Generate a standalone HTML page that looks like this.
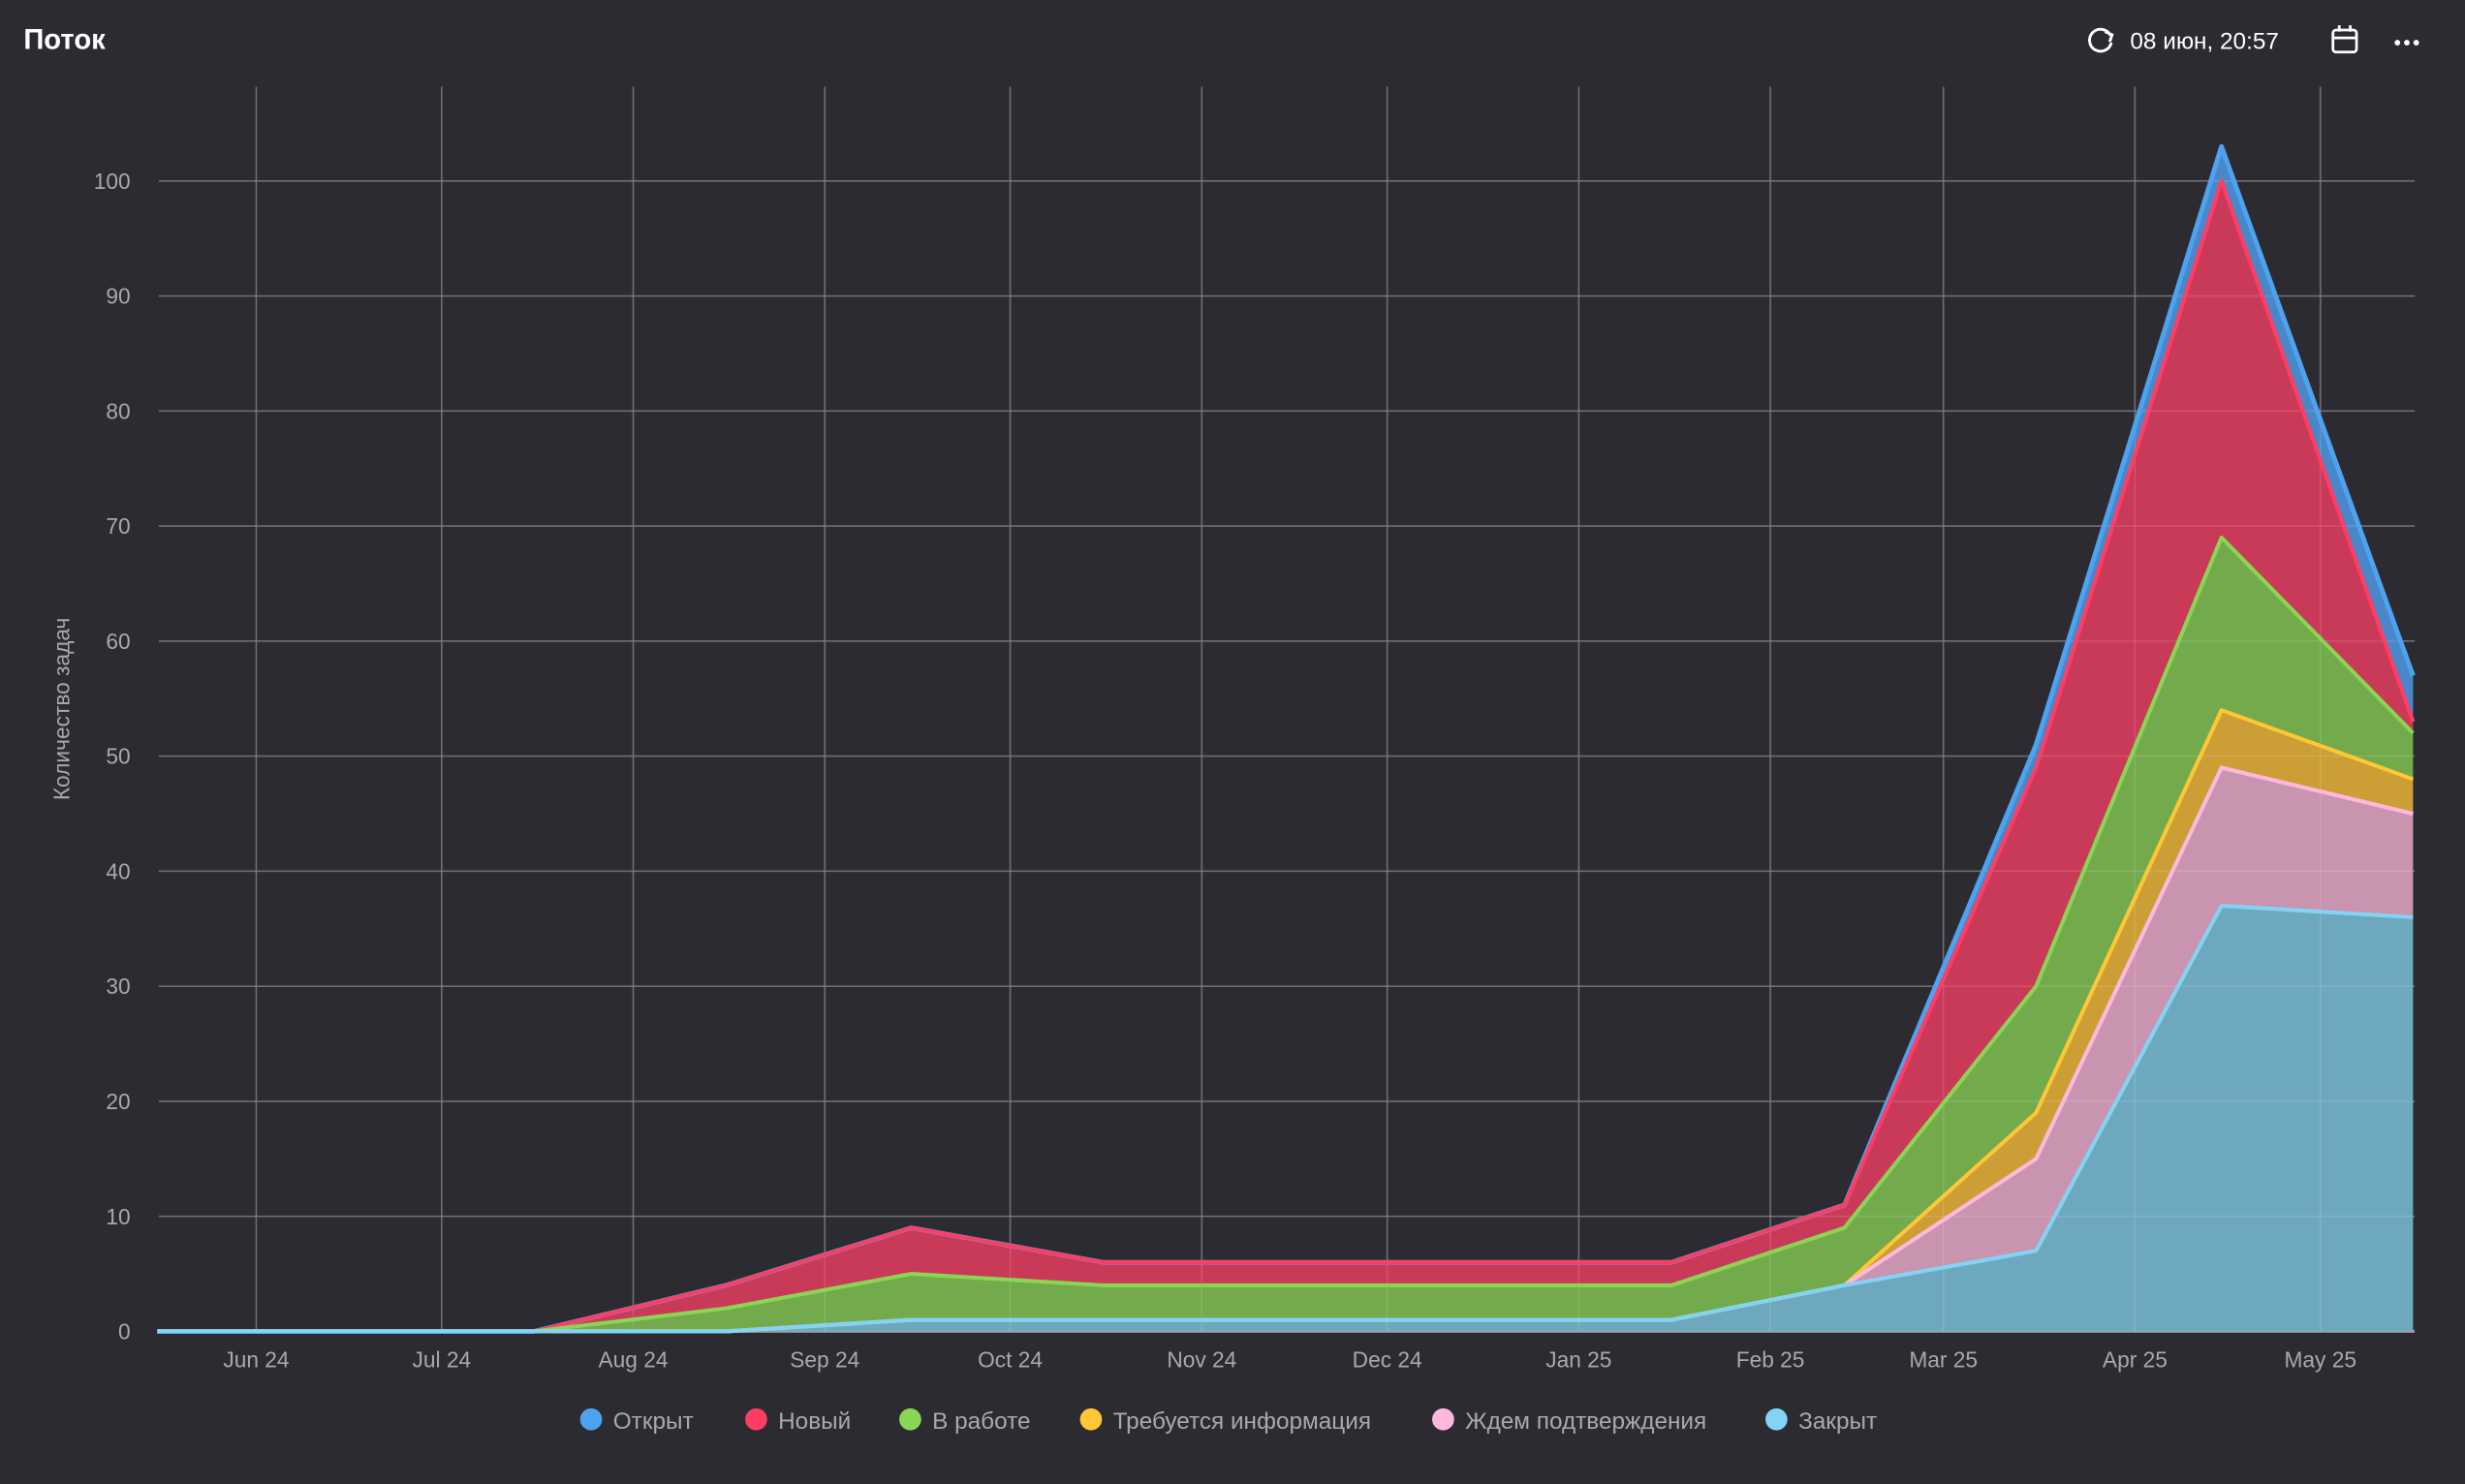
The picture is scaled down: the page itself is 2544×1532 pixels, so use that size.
<!DOCTYPE html>
<html><head><meta charset="utf-8"><style>
html,body{margin:0;padding:0;background:#2c2b31;}
svg{display:block;font-family:"Liberation Sans","DejaVu Sans",sans-serif;}
</style></head><body>
<svg id="chart" width="2544" height="1532" viewBox="0 0 1568 944" xmlns="http://www.w3.org/2000/svg">
<rect x="0" y="0" width="1568" height="944" fill="#2c2b31"/>
<text x="15" y="31" fill="#ffffff" font-size="18" font-weight="bold">Поток</text>
<g transform="translate(1336,26)">
<path d="M6.5,-3.5 A7,7 0 1 0 7,1" fill="none" stroke="#fff" stroke-width="1.8"/>
<path d="M3,-6 L7.5,-4 L6,0.5" fill="none" stroke="#fff" stroke-width="1.8"/>
</g>
<text x="1355" y="31" fill="#ffffff" font-size="15">08 июн, 20:57</text>
<g>
<rect x="1484" y="19" width="15" height="14" rx="2" fill="none" stroke="#fff" stroke-width="1.7"/>
<line x1="1484" y1="24" x2="1499" y2="24" stroke="#fff" stroke-width="1.7"/>
<line x1="1488" y1="16" x2="1488" y2="20" stroke="#fff" stroke-width="1.7"/>
<line x1="1495" y1="16" x2="1495" y2="20" stroke="#fff" stroke-width="1.7"/>
</g>
<g fill="#fff">
<circle cx="1525" cy="27" r="1.8"/><circle cx="1531" cy="27" r="1.8"/><circle cx="1537" cy="27" r="1.8"/>
</g>
<text transform="translate(44,451) rotate(-90)" text-anchor="middle" fill="#a9a9ad" font-size="14">Количество задач</text>
<g id="grid"></g><g id="areas"></g><g id="overlay"></g><g id="lines"></g><g id="axes"></g><g id="legend"></g>
</svg>
<script>
const monthLabels = ["Jun 24","Jul 24","Aug 24","Sep 24","Oct 24","Nov 24","Dec 24","Jan 25","Feb 25","Mar 25","Apr 25","May 25"];
const monthDays = [0,30,61,92,122,153,183,214,245,273,304,334]; // days since 2024-06-01
const pointDays = [-16,15,45,76,106,137,168,198,229,257,288,318,349];
const yTicks = [0,10,20,30,40,50,60,70,80,90,100];
const seriesNames = ["Закрыт","Ждем подтверждения","Требуется информация","В работе","Новый","Открыт"];
const closedVals  = [0,0,0,0,1,1,1,1,1,4,7,37,36];
const waitVals    = [0,0,0,0,0,0,0,0,0,0,8,12,9];
const infoVals    = [0,0,0,0,0,0,0,0,0,0,4,5,3];
const workVals    = [0,0,0,2,4,3,3,3,3,5,11,15,4];
const newVals     = [0,0,0,2,4,2,2,2,2,2,19,31,1];
const openVals    = [0,0,0,0,0,0,0,0,0,0,2,3,4];
const legendOrder = ["Открыт","Новый","В работе","Требуется информация","Ждем подтверждения","Закрыт"];

const fills = ["#6ea8be","#c994b0","#cc9e36","#73aa4c","#c93a58","#4a87c8"];
const strokes = ["#82d4f4","#ffb8dd","#ffc636","#8ad554","#ff3d64","#4da3f0"];
const NS="http://www.w3.org/2000/svg";
const L=101,R=1536,Y0=847,Y100=115;
const xs = d => 163 + d*(1476-163)/334;
const ys = v => Y0 - v*(Y0-Y100)/100;
function mk(t,a,p){const e=document.createElementNS(NS,t);for(const k in a)e.setAttribute(k,a[k]);p.appendChild(e);return e;}
const grid=document.getElementById('grid'),areas=document.getElementById('areas'),overlay=document.getElementById('overlay'),linesG=document.getElementById('lines'),axes=document.getElementById('axes'),legend=document.getElementById('legend');
yTicks.forEach(v=>{
  const l=mk('line',{x1:L,x2:R,y1:ys(v),y2:ys(v),stroke:v===0?'#8a8a8e':'#5a5a5f','stroke-width':v===0?2:1},grid);
  
  
  const o=mk('line',{x1:L,x2:R,y1:ys(v),y2:ys(v),stroke:'#ffffff','stroke-opacity':0.12,'stroke-width':1},overlay);
  
  
  const t=mk('text',{x:83,y:ys(v)+5,'text-anchor':'end',fill:'#a9a9ad','font-size':14},axes);
  t.textContent=v;
  
  
});
monthDays.forEach((d,i)=>{
  const l=mk('line',{x1:xs(d),x2:xs(d),y1:55,y2:Y0,stroke:'#5a5a5f','stroke-width':1},grid);
  
  
  const o=mk('line',{x1:xs(d),x2:xs(d),y1:55,y2:Y0,stroke:'#ffffff','stroke-opacity':0.12,'stroke-width':1},overlay);
  
  
  const t=mk('text',{x:xs(d),y:870,'text-anchor':'middle',fill:'#a9a9ad','font-size':14},axes);
  t.textContent=monthLabels[i];
  
  
});
const all=[closedVals,waitVals,infoVals,workVals,newVals,openVals];
let base=pointDays.map(()=>0);
const layers=[];
all.forEach((vals,si)=>{
  const top=base.map((b,i)=>b+vals[i]);
  layers.push({top:top,bot:base.slice()});
  base=top;
});
for(let si=layers.length-1;si>=0;si--){
  const {top,bot}=layers[si];
  let d='M'+pointDays.map((p,i)=>xs(p)+','+ys(top[i])).join(' L');
  for(let i=pointDays.length-1;i>=0;i--) d+=' L'+xs(pointDays[i])+','+ys(bot[i]);
  d+='Z';
  const a=mk('path',{d:d,fill:fills[si],stroke:'none'},areas);
  
  
}
for(let si=layers.length-1;si>=0;si--){
  const ly=layers[si];
  const ln=mk('polyline',{points:pointDays.map((p,i)=>xs(p)+','+ys(ly.top[i])).join(' '),fill:'none',stroke:strokes[si],'stroke-width':si===5?3:2.5,'stroke-linejoin':'round'},linesG);
  
  
}
const lx=[376,481,579,694,918,1130];
legendOrder.forEach((n,i)=>{
  const si=seriesNames.indexOf(n);
  const g=mk('g',{},legend);
  
  
  mk('circle',{cx:lx[i],cy:903,r:7,fill:strokes[si]},g);
  const t=mk('text',{x:lx[i]+14,y:909,fill:'#a9a9ad','font-size':15},g);
  t.textContent=n;
});
</script>
</body></html>
